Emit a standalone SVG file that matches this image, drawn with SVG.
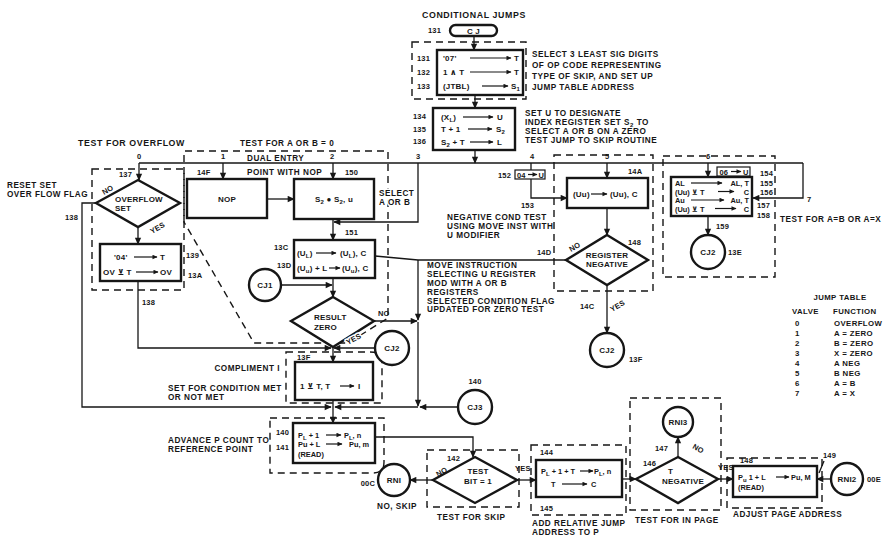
<svg xmlns="http://www.w3.org/2000/svg" width="885" height="537" viewBox="0 0 885 537">
<style>
text{font-family:"Liberation Sans",Arial,"DejaVu Sans",sans-serif;font-weight:bold;fill:#161616}
.a{font-size:8.2px;letter-spacing:0.5px}
.h{font-size:8.8px;letter-spacing:0.6px}
.n{font-size:7.5px;letter-spacing:0.2px}
.j{font-size:7.8px;letter-spacing:0.4px}
.b{font-size:8px;letter-spacing:0.2px}
.bs{font-size:7.4px}
.c{text-anchor:middle}
.e{text-anchor:end}
.sb{font-size:6px}
.halo{paint-order:stroke;stroke:#fff;stroke-width:3px;stroke-linejoin:round}
.box{fill:#fff;stroke:#161616;stroke-width:2.4}
.sbox{fill:#fff;stroke:#161616;stroke-width:1.2}
.dash{fill:none;stroke:#161616;stroke-width:1.4;stroke-dasharray:7 5}
.ln{fill:none;stroke:#161616;stroke-width:1.3}
.ar{marker-end:url(#ah)}
.ia{fill:none;stroke:#161616;stroke-width:1.2;marker-end:url(#sa)}
</style>
<defs>
<marker id="ah" viewBox="0 0 10 10" refX="9" refY="5" markerWidth="8" markerHeight="7" orient="auto" markerUnits="userSpaceOnUse"><path d="M0,0.5 L10,5 L0,9.5 z" fill="#161616"/></marker>
<marker id="sa" viewBox="0 0 10 10" refX="9" refY="5" markerWidth="7" markerHeight="5" orient="auto" markerUnits="userSpaceOnUse"><path d="M0,0.5 L10,5 L0,9.5 z" fill="#161616"/></marker>
</defs>
<rect x="0" y="0" width="885" height="537" fill="#fff"/>

<g id="regions">
<rect class="dash" x="412" y="42" width="114" height="57"/>
<rect class="dash" x="92" y="169" width="92" height="121"/>
<path class="dash" d="M184,222 V151 H388 V318 L348,343 H254 Z"/>
<rect class="dash" x="554" y="155" width="99" height="136"/>
<rect class="dash" x="663" y="156" width="112" height="121"/>
<path class="dash" d="M286,352 H370 Q382,352 382,362 V403 H286 Z"/>
<path class="dash" d="M270,418 H384 V462 Q384,473 373,473 H270 Z"/>
<rect class="dash" x="427" y="450" width="92" height="57"/>
<rect class="dash" x="531" y="445" width="95" height="70"/>
<rect class="dash" x="630" y="398" width="91" height="112"/>
<rect class="dash" x="727" y="458" width="95" height="50"/>
</g>

<g id="connectors">
<path class="ln" d="M139,163 H803"/>
<path class="ln ar" d="M139,163 V180"/>
<path class="ln ar" d="M223,163 V179"/>
<path class="ln ar" d="M333,163 V179"/>
<path class="ln ar" d="M418,163 V222 H334"/>
<path class="ln ar" d="M531,163 V198 H567"/>
<path class="ln ar" d="M607,163 V178"/>
<path class="ln ar" d="M708,163 V177"/>
<path class="ln ar" d="M803,163 V198 H753"/>
<path class="ln ar" d="M474,36 V50"/>
<path class="ln ar" d="M475,95 V108"/>
<path class="ln ar" d="M475,150 V163"/>
<path class="ln ar" d="M138,227 V244"/>
<path class="ln ar" d="M96,203 H82 V407 H331"/>
<path class="ln ar" d="M138,281 V348 H331"/>
<path class="ln ar" d="M267,199 H294"/>
<path class="ln ar" d="M333,219 V240"/>
<path class="ln ar" d="M333,278 V297"/>
<path class="ln ar" d="M282,285 H332"/>
<path class="ln ar" d="M374,321 H417"/>
<path class="ln" d="M566,260 H418"/>
<path class="ln" d="M375,256 L418,260"/>
<path class="ln ar" d="M418,260 V320"/>
<path class="ln ar" d="M418,322 V406"/>
<path class="ln ar" d="M375,348 H334"/>
<path class="ln ar" d="M333,348 V362"/>
<path class="ln ar" d="M333,400 V423"/>
<path class="ln ar" d="M458,407 H420"/>
<path class="ln ar" d="M418,407 H335"/>
<path class="ln ar" d="M375,437 H473 V457"/>
<path class="ln ar" d="M433,480 H410"/>
<path class="ln ar" d="M517,480 H536"/>
<path class="ln ar" d="M622,479 H636"/>
<path class="ln ar" d="M678,457 V437"/>
<path class="ln ar" d="M718,479 H733"/>
<path class="ln ar" d="M831,479 H817"/>
<path class="ln ar" d="M607,208 V235"/>
<path class="ln ar" d="M607,285 V333"/>
<path class="ln ar" d="M708,216 V235"/>
<path class="ln" d="M824,461 L819,473"/>
</g>

<g id="cj-start">
<rect class="box" x="450" y="25" width="47" height="11" rx="5.5"/>
<text class="b c" x="473.5" y="33.5">C J</text>
<text class="n" x="428" y="33">131</text>
</g>

<g id="n131">
<rect class="box" x="437" y="50" width="86" height="45"/>
<text class="n" x="417" y="61">131</text>
<text class="n" x="417" y="75">132</text>
<text class="n" x="417" y="89">133</text>
<text class="b" x="443" y="61">'07'</text><path class="ia" d="M470,58 H511"/><text class="b" x="514" y="61">T</text>
<text class="b" x="443" y="75">1 ∧ T</text><path class="ia" d="M470,72 H511"/><text class="b" x="514" y="75">T</text>
<text class="b" x="443" y="89">(JTBL)</text><path class="ia" d="M482,86 H508"/><text class="b" x="511" y="89">S<tspan class="sb" dy="2">1</tspan></text>
</g>

<g id="n134">
<rect class="box" x="433" y="108" width="82" height="42"/>
<text class="n" x="413" y="119">134</text>
<text class="n" x="413" y="132">135</text>
<text class="n" x="413" y="144">136</text>
<text class="b" x="441" y="120">(X<tspan class="sb" dy="2">L</tspan><tspan dy="-2">)</tspan></text><path class="ia" d="M463,117 H493"/><text class="b" x="497" y="120">U</text>
<text class="b" x="441" y="132">T + 1</text><path class="ia" d="M468,129 H492"/><text class="b" x="496" y="132">S<tspan class="sb" dy="2">2</tspan></text>
<text class="b" x="441" y="145">S<tspan class="sb" dy="2">2</tspan><tspan dy="-2"> + T</tspan></text><path class="ia" d="M470,142 H493"/><text class="b" x="497" y="145">L</text>
</g>

<g id="n137">
<path class="box" d="M138,180 L180,203 L138,227 L96,203 Z"/>
<text class="b" x="115" y="202">OVERFLOW</text>
<text class="b" x="115" y="211">SET</text>
<text class="n" x="119" y="177">137</text>
<text class="n" transform="translate(104,195) rotate(-30)">NO</text>
<text class="n" transform="translate(152,234) rotate(-30)">YES</text>
</g>

<g id="n139">
<rect class="box" x="100" y="244" width="81" height="37"/>
<text class="b" x="114" y="260">'04'</text><path class="ia" d="M134,257 H157"/><text class="b" x="160" y="260">T</text>
<text class="b" x="103" y="275">OV ⊻ T</text><path class="ia" d="M136,272 H158"/><text class="b" x="160" y="275">OV</text>
<text class="n" x="186" y="258">139</text>
<text class="n" x="188" y="278">13A</text>
<text class="n" x="142" y="305">138</text>
</g>

<g id="n14F">
<rect class="box" x="187" y="179" width="80" height="39"/>
<text class="b c" x="227" y="202">NOP</text>
<text class="n" x="197" y="175">14F</text>
</g>

<g id="n150">
<rect class="box" x="294" y="179" width="80" height="40"/>
<text class="b c" x="334" y="202">S<tspan class="sb" dy="2">2</tspan><tspan dy="-2"> ● S</tspan><tspan class="sb" dy="2">2</tspan><tspan dy="-2">, u</tspan></text>
<text class="n" x="345" y="175">150</text>
<text class="n" x="345" y="235">151</text>
</g>

<g id="n13C">
<rect class="box" x="294" y="240" width="81" height="38"/>
<text class="b" x="297" y="256">(U<tspan class="sb" dy="2">L</tspan><tspan dy="-2">)</tspan></text><path class="ia" d="M316,253 H336"/><text class="b" x="340" y="256">(U<tspan class="sb" dy="2">L</tspan><tspan dy="-2">), C</tspan></text>
<text class="b" x="297" y="271">(U<tspan class="sb" dy="2">u</tspan><tspan dy="-2">) + L</tspan></text><path class="ia" d="M329,268 H340"/><text class="b" x="342" y="271">(U<tspan class="sb" dy="2">u</tspan><tspan dy="-2">), C</tspan></text>
<text class="n" x="274" y="250">13C</text>
<text class="n" x="277" y="268">13D</text>
</g>

<g id="cj1">
<circle class="box" cx="265" cy="285" r="16"/>
<text class="b c" x="265" y="288">CJ1</text>
</g>

<g id="n-result-zero">
<path class="box" d="M333,297 L374,321 L333,347 L291,321 Z"/>
<text class="b" x="314" y="320">RESULT</text>
<text class="b" x="314" y="330">ZERO</text>
<text class="n" x="378" y="316">NO</text>
<text class="n halo" transform="translate(348,345) rotate(-28)">YES</text>
</g>

<g id="cj2-a">
<circle class="box" cx="392" cy="348" r="17"/>
<text class="b c" x="392" y="351">CJ2</text>
</g>

<g id="n13F">
<rect class="box" x="295" y="362" width="78" height="38"/>
<text class="b" x="300" y="389">1 ⊻ T, T</text><path class="ia" d="M340,386 H354"/><text class="b" x="358" y="389">I</text>
<text class="n" x="297" y="360">13F</text>
</g>

<g id="cj3">
<circle class="box" cx="475" cy="407" r="17"/>
<text class="b c" x="475" y="410">CJ3</text>
<text class="n c" x="475" y="384">140</text>
</g>

<g id="n140">
<rect class="box" x="293" y="423" width="82" height="40"/>
<text class="bs" x="298" y="438">P<tspan class="sb" dy="2">L</tspan><tspan dy="-2"> + 1</tspan></text><path class="ia" d="M326,435 H341"/><text class="bs" x="344" y="438">P<tspan class="sb" dy="2">L</tspan><tspan dy="-2">, n</tspan></text>
<text class="bs" x="298" y="447">Pu + L</text><path class="ia" d="M326,444 H342"/><text class="bs" x="349" y="447">Pu, m</text>
<text class="bs" x="298" y="457">(READ)</text>
<text class="n" x="276" y="435">140</text>
<text class="n" x="276" y="450">141</text>
</g>

<g id="n142">
<path class="box" d="M475,457 L517,480 L475,503 L433,480 Z"/>
<text class="b c" x="478" y="474">TEST</text>
<text class="b c" x="478" y="484">BIT = 1</text>
<text class="n" x="447" y="461">142</text>
<text class="n" transform="translate(438,477) rotate(-30)">NO</text>
<text class="n" x="515" y="471">YES</text>
</g>

<g id="rni">
<circle class="box" cx="394" cy="480" r="16"/>
<text class="b c" x="394" y="483">RNI</text>
<text class="n e" x="375" y="486">00C</text>
<text class="a c" x="397" y="509">NO, SKIP</text>
</g>

<g id="n144">
<rect class="box" x="536" y="460" width="86" height="37"/>
<text class="bs" x="541" y="474">P<tspan class="sb" dy="2">L</tspan><tspan dy="-2"> + 1 + T</tspan></text><path class="ia" d="M580,471 H593"/><text class="bs" x="594" y="474">P<tspan class="sb" dy="2">L</tspan><tspan dy="-2">, n</tspan></text>
<text class="bs" x="551" y="487">T</text><path class="ia" d="M562,484 H587"/><text class="bs" x="591" y="487">C</text>
<text class="n" x="540" y="455">144</text>
<text class="n" x="540" y="511">145</text>
</g>

<g id="n146">
<path class="box" d="M678,457 L718,479 L678,503 L636,479 Z"/>
<text class="b" x="668" y="474">T</text>
<text class="b c" x="683" y="484">NEGATIVE</text>
<text class="n" x="643" y="466">146</text>
<text class="n" x="655" y="451">147</text>
<text class="n" transform="translate(692,448) rotate(30)">NO</text>
<text class="n" x="718" y="470">YES</text>
</g>

<g id="rni3">
<circle class="box" cx="678" cy="422" r="15"/>
<text class="b c" x="678" y="425">RNI3</text>
</g>

<g id="n148">
<rect class="box" x="733" y="466" width="84" height="31"/>
<text class="bs" x="738" y="480">P<tspan class="sb" dy="2">u</tspan><tspan dy="-2">  1 + L</tspan></text><path class="ia" d="M776,477 H789"/><text class="bs" x="791" y="480">Pu, M</text>
<text class="bs" x="738" y="490">(READ)</text>
<text class="n" x="740" y="463">148</text>
<text class="n" x="823" y="458">149</text>
</g>

<g id="rni2">
<circle class="box" cx="847" cy="479" r="16"/>
<text class="b c" x="847" y="482">RNI2</text>
<text class="n" x="867" y="482">00E</text>
</g>

<g id="n14A">
<rect class="box" x="567" y="178" width="81" height="30"/>
<text class="b" x="573" y="197">(Uu)</text><path class="ia" d="M591,194 H607"/><text class="b" x="610" y="197">(Uu), C</text>
<text class="n" x="628" y="174">14A</text>
<text class="n" x="498" y="178">152</text>
<rect class="sbox" x="515" y="170" width="30" height="9"/>
<text class="n" x="517" y="177.5">04</text><path class="ia" d="M528,174.5 H537"/><text class="n" x="538.5" y="177.5">U</text>
<text class="n" x="521" y="208">153</text>
</g>

<g id="n148-neg">
<path class="box" d="M607,235 L648,260 L607,285 L566,260 Z"/>
<text class="b c" x="607" y="258">REGISTER</text>
<text class="b c" x="607" y="267">NEGATIVE</text>
<text class="n" x="628" y="245">148</text>
<text class="n" x="537" y="255">14D</text>
<text class="n" transform="translate(571,252) rotate(-30)">NO</text>
<text class="n" x="580" y="309">14C</text>
<text class="n" transform="translate(612,312) rotate(-30)">YES</text>
</g>

<g id="cj2-b">
<circle class="box" cx="607" cy="350" r="17"/>
<text class="b c" x="607" y="353">CJ2</text>
<text class="n" x="629" y="362">13F</text>
</g>

<g id="n154">
<rect class="box" x="671" y="177" width="81" height="39"/>
<text class="bs" x="675" y="186">AL</text><path class="ia" d="M691,183 H722"/><text class="bs e" x="749" y="186">AL, T</text>
<text class="bs" x="675" y="194.5">(Uu) ⊻ T</text><path class="ia" d="M718,191.5 H734"/><text class="bs e" x="749" y="194.5">C</text>
<text class="bs" x="675" y="203">Au</text><path class="ia" d="M691,200 H724"/><text class="bs e" x="749" y="203">Au, T</text>
<text class="bs" x="675" y="211.5">(Uu) ⊻ T</text><path class="ia" d="M715,208.5 H736"/><text class="bs e" x="749" y="211.5">C</text>
<rect class="sbox" x="717" y="167" width="33" height="9"/>
<text class="n" x="719.5" y="174.5">06</text><path class="ia" d="M731,171.5 H741"/><text class="n" x="743" y="174.5">U</text>
<text class="n" x="760" y="176">154</text>
<text class="n" x="760" y="186">155</text>
<text class="n" x="760" y="195">156</text>
<text class="n" x="757" y="208">157</text>
<text class="n" x="757" y="218">158</text>
</g>

<g id="cj2-c">
<circle class="box" cx="708" cy="252" r="17"/>
<text class="b c" x="708" y="255">CJ2</text>
<text class="n" x="728" y="255">13E</text>
<text class="n" x="716" y="229">159</text>
</g>

<g id="annotations">
<text class="h" x="422" y="18">CONDITIONAL JUMPS</text>
<text class="a" x="532" y="57">SELECT 3 LEAST SIG DIGITS</text>
<text class="a" x="532" y="68">OF OP CODE REPRESENTING</text>
<text class="a" x="532" y="79">TYPE OF SKIP, AND SET UP</text>
<text class="a" x="532" y="90">JUMP TABLE ADDRESS</text>
<text class="a" x="525" y="116">SET U TO DESIGNATE</text>
<text class="a" x="525" y="125">INDEX REGISTER SET S<tspan class="sb" dy="2">2</tspan><tspan dy="-2"> TO</tspan></text>
<text class="a" x="525" y="134">SELECT A OR B ON A ZERO</text>
<text class="a" x="525" y="143">TEST JUMP TO SKIP ROUTINE</text>
<text class="h" x="78" y="146">TEST FOR OVERFLOW</text>
<text class="a" x="240" y="146">TEST FOR A OR B = 0</text>
<text class="n" x="137" y="159">0</text>
<text class="n" x="221" y="159">1</text>
<text class="n" x="330" y="159">2</text>
<text class="n" x="416" y="159">3</text>
<text class="n" x="530" y="159">4</text>
<text class="n" x="605" y="159">5</text>
<text class="n" x="706" y="159">6</text>
<text class="n" x="807" y="202">7</text>
<text class="a" x="247" y="161">DUAL ENTRY</text>
<text class="a" x="247" y="175">POINT WITH NOP</text>
<text class="a" x="7" y="188">RESET SET</text>
<text class="a" x="7" y="197">OVER FLOW FLAG</text>
<text class="n" x="65" y="220">138</text>
<text class="a halo" x="379" y="196">SELECT</text>
<text class="a halo" x="379" y="205">A OR B</text>
<text class="a" x="447" y="220">NEGATIVE COND TEST</text>
<text class="a" x="447" y="229">USING MOVE INST WITH</text>
<text class="a" x="447" y="238">U MODIFIER</text>
<text class="a" x="427" y="268">MOVE INSTRUCTION</text>
<text class="a" x="427" y="277">SELECTING U REGISTER</text>
<text class="a" x="427" y="286">MOD WITH A OR B</text>
<text class="a" x="427" y="295">REGISTERS</text>
<text class="a" x="427" y="304">SELECTED CONDITION FLAG</text>
<text class="a" x="427" y="312">UPDATED FOR ZERO TEST</text>
<text class="a e" x="280" y="371">COMPLIMENT I</text>
<text class="a" x="168" y="391">SET FOR CONDITION MET</text>
<text class="a" x="168" y="400">OR NOT MET</text>
<text class="a" x="168" y="443">ADVANCE P COUNT TO</text>
<text class="a" x="168" y="452">REFERENCE POINT</text>
<text class="a" x="437" y="520">TEST FOR SKIP</text>
<text class="a" x="532" y="526">ADD RELATIVE JUMP</text>
<text class="a" x="532" y="535">ADDRESS TO P</text>
<text class="a" x="635" y="523">TEST FOR IN PAGE</text>
<text class="a" x="733" y="517">ADJUST PAGE ADDRESS</text>
<text class="a" x="780" y="222">TEST FOR A=B OR A=X</text>
</g>

<g id="jump-table">
<text class="j c" x="840" y="300">JUMP TABLE</text>
<text class="j" x="792" y="314">VALVE</text><text class="j" x="833" y="314">FUNCTION</text>
<text class="j" x="795" y="326">0</text><text class="j" x="834" y="326">OVERFLOW</text>
<text class="j" x="795" y="336">1</text><text class="j" x="834" y="336">A = ZERO</text>
<text class="j" x="795" y="346">2</text><text class="j" x="834" y="346">B = ZERO</text>
<text class="j" x="795" y="356">3</text><text class="j" x="834" y="356">X = ZERO</text>
<text class="j" x="795" y="366">4</text><text class="j" x="834" y="366">A NEG</text>
<text class="j" x="795" y="376">5</text><text class="j" x="834" y="376">B NEG</text>
<text class="j" x="795" y="386">6</text><text class="j" x="834" y="386">A = B</text>
<text class="j" x="795" y="396">7</text><text class="j" x="834" y="396">A = X</text>
</g>
</svg>
